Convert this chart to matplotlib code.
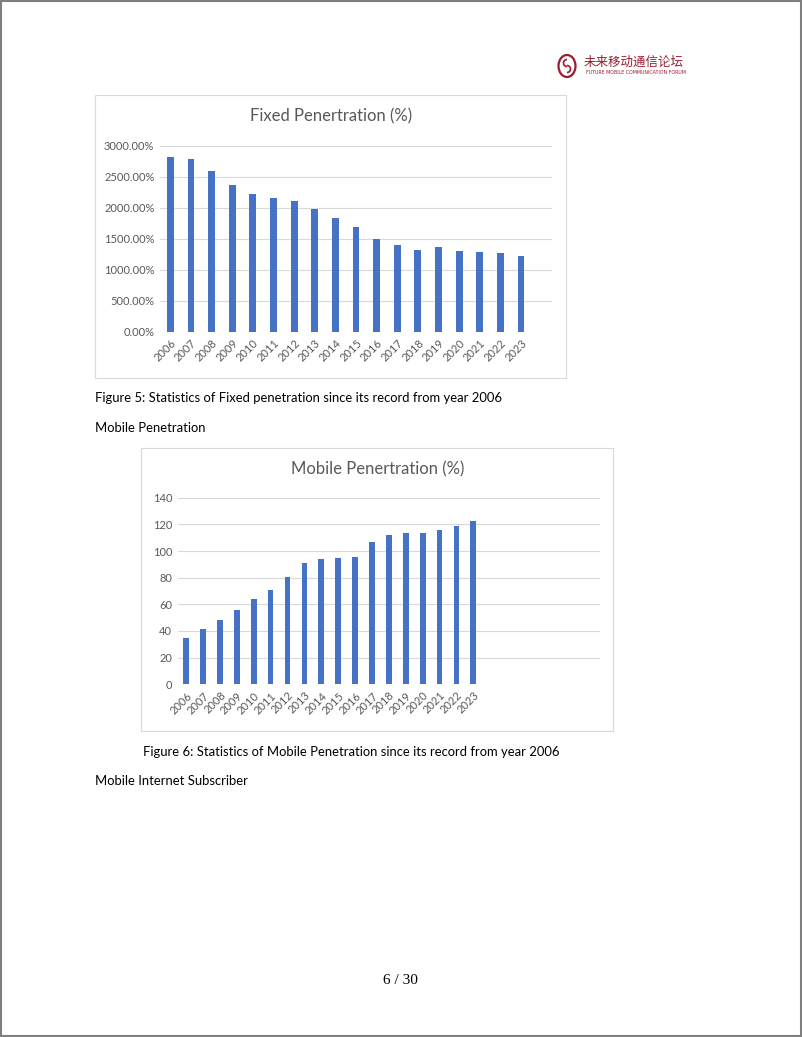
import matplotlib
matplotlib.use("Agg")
import matplotlib.pyplot as plt
from matplotlib.patches import Rectangle, Circle, Arc

YEARS = [str(y) for y in range(2006, 2024)]
FIXED = [2812, 2790, 2586, 2366, 2215, 2151, 2102, 1973, 1833, 1688,
         1500, 1398, 1312, 1371, 1301, 1280, 1269, 1226]
MOBILE = [34.8, 41.5, 48.3, 56, 64, 70.8, 80.3, 90.8, 94, 95,
          95.8, 106.5, 112, 113.8, 113.5, 116, 119, 122.3]

BLUE = "#4472C4"
GRID = "#D9D9D9"
LABEL = "#595959"
FONT = "Lato"
W, H = 802, 1037

fig = plt.figure(figsize=(W / 100, H / 100), dpi=100)
fig.patch.set_facecolor("white")


# helper: axes rectangle from page pixel coords
def px_axes(x0, y_top, x1, y_bot):
    return fig.add_axes([x0 / W, 1 - y_bot / H, (x1 - x0) / W, (y_bot - y_top) / H])


def px_text(x, y, s, **kw):
    fig.text(x / W, 1 - y / H, s, **kw)


def px_frame(x0, y0, x1, y1, color=GRID, lw=0.8):
    fig.patches.append(Rectangle((x0 / W, 1 - y1 / H), (x1 - x0) / W, (y1 - y0) / H,
                                 transform=fig.transFigure, fill=False,
                                 edgecolor=color, linewidth=lw))


def style_axes(ax, n_slots, ylim, yticks, fmt):
    ax.set_xlim(-0.5, n_slots - 0.5)
    ax.set_ylim(*ylim)
    ax.set_yticks(yticks)
    ax.set_yticklabels([fmt(v) for v in yticks], fontsize=8, color=LABEL, family=FONT)
    ax.set_xticks(range(len(YEARS)))
    ax.set_xticklabels(YEARS, rotation=45, ha="right", va="top", rotation_mode="anchor",
                       fontsize=8, color=LABEL, family=FONT)
    ax.tick_params(length=0, pad=4)
    ax.grid(axis="y", color=GRID, linewidth=0.8)
    ax.set_axisbelow(True)
    for s in ax.spines.values():
        s.set_visible(False)
    ax.set_facecolor("none")


# page border
px_frame(0.5, 0.5, W - 1.5, H - 1.5, color="#7f7f7f", lw=1.5)

# header logo
RED = "#9B1B30"
fig.patches.append(Circle((567 / W, 1 - 66 / H), 8.5 / W, transform=fig.transFigure,
                          fill=False, edgecolor=RED, linewidth=1.6))
fig.patches.append(Arc((567 / W, 1 - 63 / H), 7 / W, 7 / H, theta1=90, theta2=270,
                       transform=fig.transFigure, edgecolor=RED, linewidth=1.2))
fig.patches.append(Arc((567 / W, 1 - 69 / H), 7 / W, 7 / H, theta1=-90, theta2=90,
                       transform=fig.transFigure, edgecolor=RED, linewidth=1.2))
px_text(584, 62, "未来移动通信论坛", fontsize=9, color=RED, family="Noto Sans CJK SC",
        ha="left", va="center")
px_text(586, 72.5, "FUTURE MOBILE COMMUNICATION FORUM", fontsize=3.4, color=RED,
        family="DejaVu Sans", ha="left", va="center")

# ---- Fixed penetration chart ----
px_frame(95, 95, 566, 378)
px_text(330.7, 116.7, "Fixed Penertration (%)", fontsize=12, color=LABEL, family=FONT,
        ha="center", va="center")
ax1 = px_axes(160, 145.7, 552, 331.7)
ax1.bar(range(len(YEARS)), FIXED, width=0.33, color=BLUE)
style_axes(ax1, len(YEARS) + 1, (0, 3000), list(range(0, 3001, 500)),
           lambda v: f"{v:.2f}%")

px_text(95, 398, "Figure 5: Statistics of Fixed penetration since its record from year 2006",
        fontsize=9.4, family=FONT, ha="left", va="center", color="black")
px_text(95, 427.5, "Mobile Penetration", fontsize=9.4, family=FONT, ha="left",
        va="center", color="black")

# ---- Mobile penetration chart ----
px_frame(141, 448, 613, 731)
px_text(377.7, 469, "Mobile Penertration (%)", fontsize=12, color=LABEL, family=FONT,
        ha="center", va="center")
ax2 = px_axes(177.7, 497.7, 600, 684.3)
ax2.bar(range(len(YEARS)), MOBILE, width=0.34, color=BLUE)
style_axes(ax2, 25, (0, 140), list(range(0, 141, 20)), lambda v: f"{v}")

px_text(143.3, 752.3, "Figure 6: Statistics of Mobile Penetration since its record from year 2006",
        fontsize=9.4, family=FONT, ha="left", va="center", color="black")
px_text(95, 781, "Mobile Internet Subscriber", fontsize=9.4, family=FONT, ha="left",
        va="center", color="black")

# page number
px_text(400, 981, "6 / 30", fontsize=11, family="Liberation Serif", ha="center",
        va="center", color="black")

fig.savefig("out.png", dpi=100)
